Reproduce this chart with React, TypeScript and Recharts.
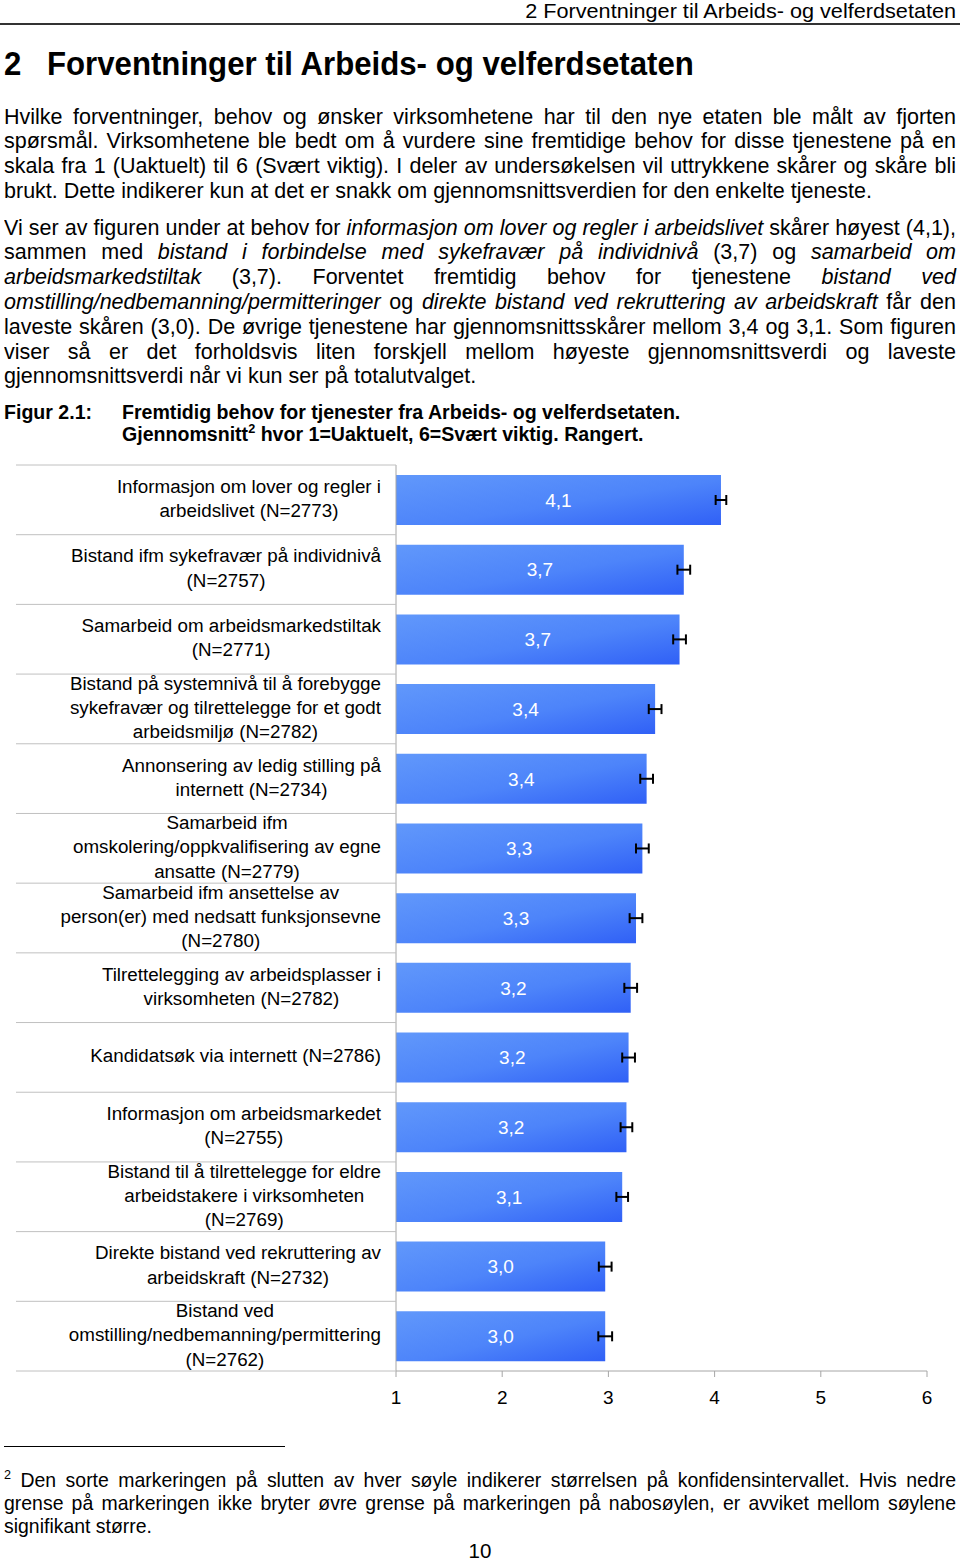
import React from "react"
import { BarChart, Bar, XAxis, YAxis, ErrorBar, LabelList } from "recharts"

// categories, as wrapped in the figure
const services: string[][] = [
  ["Informasjon om lover og regler i", "arbeidslivet (N=2773)"],
  ["Bistand ifm sykefravær på individnivå", "(N=2757)"],
  ["Samarbeid om arbeidsmarkedstiltak", "(N=2771)"],
  ["Bistand på systemnivå til å forebygge", "sykefravær og tilrettelegge for et godt", "arbeidsmiljø (N=2782)"],
  ["Annonsering av ledig stilling på", "internett (N=2734)"],
  ["Samarbeid ifm", "omskolering/oppkvalifisering av egne", "ansatte (N=2779)"],
  ["Samarbeid ifm ansettelse av", "person(er) med nedsatt funksjonsevne", "(N=2780)"],
  ["Tilrettelegging av arbeidsplasser i", "virksomheten (N=2782)"],
  ["Kandidatsøk via internett (N=2786)"],
  ["Informasjon om arbeidsmarkedet", "(N=2755)"],
  ["Bistand til å tilrettelegge for eldre", "arbeidstakere i virksomheten", "(N=2769)"],
  ["Direkte bistand ved rekruttering av", "arbeidskraft (N=2732)"],
  ["Bistand ved", "omstilling/nedbemanning/permittering", "(N=2762)"],
]
const averages = [4.06, 3.71, 3.67, 3.44, 3.36, 3.32, 3.26, 3.21, 3.19, 3.17, 3.13, 2.97, 2.97]
const intervals = [0.05, 0.06, 0.06, 0.06, 0.06, 0.06, 0.06, 0.06, 0.06, 0.055, 0.055, 0.06, 0.065]
const axisTicks = [1, 2, 3, 4, 5, 6]

const data = services.map((lines, i) => ({
  name: lines.join(" "),
  lines,
  avg: averages[i],
  ci: intervals[i],
}))

const FONT = "'Liberation Sans', Arial, sans-serif"
const LABEL_SIZE = 18.8

let measureCtx: CanvasRenderingContext2D | null = null
function measure(text: string, font: string) {
  if (!measureCtx) measureCtx = document.createElement("canvas").getContext("2d")
  if (!measureCtx) return text.length * 9
  measureCtx.font = font
  return measureCtx.measureText(text).width
}

// chart geometry
const CHART_W = 960
const CHART_H = 960
const M = { top: 10, right: 33, bottom: 14, left: 0 }
const X_AXIS_H = 30
const Y_AXIS_W = 396
const BAND = (CHART_H - M.top - M.bottom - X_AXIS_H) / services.length

function CategoryTick(props: any) {
  const { y, payload, index } = props
  const row = data.find((d) => d.name === payload.value)
  const lines = row ? row.lines : [String(payload.value)]
  const font = `${LABEL_SIZE}px 'Liberation Sans'`
  const blockW = Math.max(...lines.map((l) => measure(l, font)))
  const cx = 381 - blockW / 2
  const lh = 24.3
  const first = y - 1.5 - ((lines.length - 1) * lh) / 2
  return (
    <g>
      <line x1={16} x2={Y_AXIS_W} y1={y - BAND / 2} y2={y - BAND / 2} stroke="#c0c0c0" />
      {index === services.length - 1 && (
        <line x1={16} x2={Y_AXIS_W} y1={y + BAND / 2} y2={y + BAND / 2} stroke="#c0c0c0" />
      )}
      {lines.map((l, i) => (
        <text
          key={i}
          x={cx}
          y={first + i * lh}
          dy="0.35em"
          textAnchor="middle"
          fill="#000"
          fontSize={LABEL_SIZE}
          fontFamily={FONT}
        >
          {l}
        </text>
      ))}
    </g>
  )
}

type LineProps = {
  center: number
  left: number
  width: number
  size: number
  lineH: number
  scale: number
  bold?: boolean
  justify?: boolean
  children: React.ReactNode
}

function TextLine({ center, left, width, size, lineH, scale, bold, justify, children }: LineProps) {
  return (
    <div
      style={{
        position: "absolute",
        top: center - lineH / 2,
        left,
        width: width / scale,
        height: lineH,
        lineHeight: `${lineH}px`,
        fontSize: size,
        fontFamily: FONT,
        fontWeight: bold ? 700 : 400,
        color: "#000",
        textAlign: justify ? "justify" : "left",
        textAlignLast: justify ? "justify" : "left",
        transform: `scaleX(${scale})`,
        transformOrigin: "0 0",
      }}
    >
      {children}
    </div>
  )
}

function Paragraph(props: {
  lines: React.ReactNode[]
  first: number
  lineH: number
  size: number
  scale: number
}) {
  const { lines, first, lineH, size, scale } = props
  return (
    <>
      {lines.map((l, i) => (
        <TextLine
          key={i}
          center={first + i * lineH}
          left={4}
          width={952}
          size={size}
          lineH={lineH}
          scale={scale}
          justify={i < lines.length - 1}
        >
          {l}
        </TextLine>
      ))}
    </>
  )
}

const para1 = [
  "Hvilke forventninger, behov og ønsker virksomhetene har til den nye etaten ble målt av fjorten",
  "spørsmål. Virksomhetene ble bedt om å vurdere sine fremtidige behov for disse tjenestene på en",
  "skala fra 1 (Uaktuelt) til 6 (Svært viktig). I deler av undersøkelsen vil uttrykkene skårer og skåre bli",
  "brukt. Dette indikerer kun at det er snakk om gjennomsnittsverdien for den enkelte tjeneste.",
]

const para2 = [
  <>Vi ser av figuren under at behov for <i>informasjon om lover og regler i arbeidslivet</i> skårer høyest (4,1),</>,
  <>sammen med <i>bistand i forbindelse med sykefravær på individnivå</i> (3,7) og <i>samarbeid om</i></>,
  <><i>arbeidsmarkedstiltak</i> (3,7). Forventet fremtidig behov for tjenestene <i>bistand ved</i></>,
  <><i>omstilling/nedbemanning/permitteringer</i> og <i>direkte bistand ved rekruttering av arbeidskraft</i> får den</>,
  <>laveste skåren (3,0). De øvrige tjenestene har gjennomsnittsskårer mellom 3,4 og 3,1. Som figuren</>,
  <>viser så er det forholdsvis liten forskjell mellom høyeste gjennomsnittsverdi og laveste</>,
  <>gjennomsnittsverdi når vi kun ser på totalutvalget.</>,
]

const footnote = [
  <><sup style={{ fontSize: "0.65em", lineHeight: 0 }}>2</sup> Den sorte markeringen på slutten av hver søyle indikerer størrelsen på konfidensintervallet. Hvis nedre</>,
  <>grense på markeringen ikke bryter øvre grense på markeringen på nabosøylen, er avviket mellom søylene</>,
  <>signifikant større.</>,
]

export default function App() {
  const bodyScale = 868 / measure(para1[3], "22px 'Liberation Sans'")
  const footScale = 148 / measure("signifikant større.", "21px 'Liberation Sans'")
  const headerText = "2 Forventninger til Arbeids- og velferdsetaten"
  const headerScale = 432 / measure(headerText, "21px 'Liberation Sans'")
  const headingText = "Forventninger til Arbeids- og velferdsetaten"
  const headingScale = 648 / measure(headingText, "bold 34px 'Liberation Sans'")
  const captionText = "Fremtidig behov for tjenester fra Arbeids- og velferdsetaten."
  const captionScale = 559 / measure(captionText, "bold 20px 'Liberation Sans'")
  const headerW = 432 / headerScale

  return (
    <div style={{ position: "absolute", left: 0, top: 0, width: 960, height: 1562, background: "#fff", overflow: "hidden" }}>
      {/* running header */}
      <div
        style={{
          position: "absolute",
          top: 0,
          left: 956 - headerW,
          width: headerW,
          height: 22,
          lineHeight: "22px",
          fontSize: 21,
          fontFamily: FONT,
          whiteSpace: "nowrap",
          transform: `scaleX(${headerScale})`,
          transformOrigin: "100% 0",
          textAlign: "right",
          color: "#000",
        }}
      >
        {headerText}
      </div>
      <div style={{ position: "absolute", top: 23, left: 0, width: 960, height: 2, background: "#333" }} />

      {/* chapter heading */}
      <TextLine center={63} left={4} width={60} size={34} lineH={40} scale={headingScale} bold>
        2
      </TextLine>
      <TextLine center={63} left={47} width={700} size={34} lineH={40} scale={headingScale} bold>
        {headingText}
      </TextLine>

      <Paragraph lines={para1} first={117} lineH={24.8} size={22} scale={bodyScale} />
      <Paragraph lines={para2} first={228} lineH={24.8} size={22} scale={bodyScale} />

      {/* figure caption */}
      <TextLine center={412} left={4} width={120} size={20} lineH={22} scale={captionScale} bold>
        Figur 2.1:
      </TextLine>
      <TextLine center={412} left={122} width={700} size={20} lineH={22} scale={captionScale} bold>
        {captionText}
      </TextLine>
      <TextLine center={434} left={122} width={700} size={20} lineH={22} scale={captionScale} bold>
        Gjennomsnitt<sup style={{ fontSize: "0.65em", lineHeight: 0 }}>2</sup> hvor 1=Uaktuelt, 6=Svært viktig. Rangert.
      </TextLine>

      <div style={{ position: "absolute", top: 455, left: 0 }}>
        <BarChart
          width={CHART_W}
          height={CHART_H}
          data={data}
          layout="vertical"
          margin={M}
          barSize={50}
        >
          <defs>
            <linearGradient id="barFill" x1="0" y1="0" x2="1" y2="1">
              <stop offset="0%" stopColor="#6198fb" />
              <stop offset="55%" stopColor="#4d84fa" />
              <stop offset="100%" stopColor="#3060f6" />
            </linearGradient>
          </defs>
          <XAxis
            type="number"
            domain={[1, 6]}
            ticks={axisTicks}
            height={X_AXIS_H}
            tickSize={6}
            tickMargin={14}
            axisLine={{ stroke: "#a6a6a6" }}
            tickLine={{ stroke: "#a6a6a6" }}
            tick={{ fill: "#000", fontSize: 19, fontFamily: FONT }}
          />
          <YAxis
            type="category"
            dataKey="name"
            width={Y_AXIS_W}
            interval={0}
            tickLine={false}
            axisLine={{ stroke: "#a6a6a6" }}
            tick={<CategoryTick />}
          />
          <Bar dataKey="avg" fill="url(#barFill)" isAnimationActive={false}>
            <LabelList
              dataKey="avg"
              position="center"
              fill="#fff"
              fontSize={19}
              fontFamily={FONT}
              formatter={(v: any) => Number(v).toFixed(1).replace(".", ",")}
            />
            <ErrorBar dataKey="ci" direction="x" width={5} stroke="#000" strokeWidth={2} />
          </Bar>
        </BarChart>
      </div>

      {/* footnote */}
      <div style={{ position: "absolute", top: 1446, left: 4, width: 281, height: 1, background: "#000" }} />
      <Paragraph lines={footnote} first={1479} lineH={23} size={21} scale={footScale} />

      <div
        style={{
          position: "absolute",
          top: 1551 - 12,
          left: 430,
          width: 100,
          height: 24,
          lineHeight: "24px",
          textAlign: "center",
          fontSize: 21,
          fontFamily: FONT,
          transform: `scaleX(${bodyScale})`,
          color: "#000",
        }}
      >
        10
      </div>
    </div>
  )
}
